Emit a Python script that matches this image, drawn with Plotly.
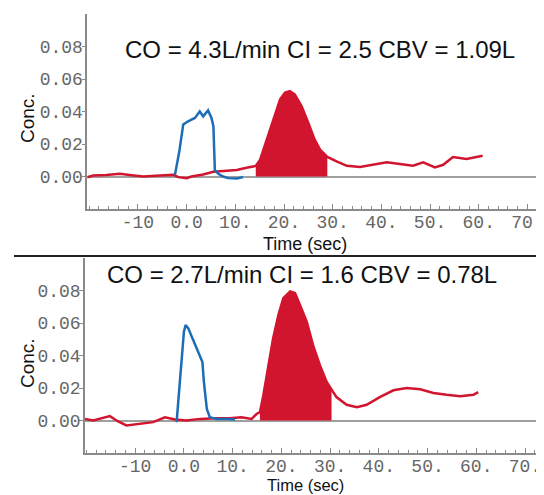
import plotly.graph_objects as go

# ---------------- data ----------------
titles = ["CO = 4.3L/min CI = 2.5 CBV = 1.09L", "CO = 2.7L/min CI = 1.6 CBV = 0.78L"]
x_tickvals = [-10, 0, 10, 20, 30, 40, 50, 60, 70]
x_ticktext = ["-10", "0.0", "10.", "20.", "30.", "40.", "50.", "60.", "70."]
y_tickvals = [0.0, 0.02, 0.04, 0.06, 0.08]
y_ticktext = ["0.00", "0.02", "0.04", "0.06", "0.08"]

top_blue_t = [-2.4, -1.5, -0.7, 0.3, 1.7, 2.7, 3.4, 4.4, 5.1, 5.5, 5.8, 6.5, 7.5, 8.5, 10.3, 11.6]
top_blue_v = [0.001, 0.0155, 0.032, 0.034, 0.036, 0.040, 0.037, 0.0407, 0.036, 0.031, 0.004,
              0.0017, 0.0, -0.001, -0.0012, -0.0004]
top_red_t = [-20.4, -19.2, -16.5, -13.7, -11.3, -8.9, -5.5, -2.75, -1.7, 0, 1.0, 3.4, 5.5, 8.2,
             10.3, 12.3, 14.2, 15.1, 16.4, 17.8, 19.2, 20.2, 21.2, 22.2, 23.6, 25.0, 26.3, 27.4,
             28.9, 30.8, 32.9, 35.6, 38.3, 41.1, 43.8, 46.5, 48.6, 51.0, 52.7, 54.7, 57.5, 59.5, 60.8]
top_red_v = [-0.0005, 0.0006, 0.001, 0.0017, 0.0008, 0.0, 0.0006, 0.001, -0.0004, -0.001, 0.0,
             0.0012, 0.0029, 0.0033, 0.004, 0.0054, 0.0065, 0.0103, 0.0217, 0.035, 0.0475, 0.0516,
             0.0526, 0.0506, 0.0433, 0.033, 0.0227, 0.0165, 0.012, 0.0093, 0.0066, 0.0058, 0.0072,
             0.0087, 0.0077, 0.0066, 0.0087, 0.0056, 0.0072, 0.012, 0.0108, 0.012, 0.0128]
top_fill_range = [14.2, 28.9]

bot_blue_t = [-1.5, -1.0, -0.5, 0.0, 0.35, 0.9, 1.9, 2.9, 3.8, 4.1, 4.7, 5.3, 6.7, 8.8, 10.5]
bot_blue_v = [-0.001, 0.0175, 0.040, 0.0547, 0.0588, 0.0567, 0.0495, 0.0423, 0.036, 0.0237,
              0.0072, 0.002, 0.001, 0.001, 0.0006]
bot_red_t = [-20.3, -18.6, -15.2, -13.5, -11.8, -9.0, -6.3, -3.9, -1.8, 0.5, 3.3, 6.7, 9.4, 11.8,
             13.9, 14.9, 15.6, 16.3, 17.3, 18.3, 19.4, 20.4, 21.8, 22.8, 23.8, 25.2, 26.5, 27.9,
             29.3, 30.3, 31.3, 33.4, 35.5, 37.5, 40.2, 43.0, 45.7, 48.5, 51.2, 53.9, 56.7, 59.4, 60.4]
bot_red_v = [0.001, 0.0, 0.0027, -0.0006, -0.003, -0.002, -0.001, 0.002, 0.0006, 0.0, 0.001,
             0.0014, 0.0014, 0.002, 0.001, 0.004, 0.0051, 0.0155, 0.034, 0.0505, 0.065, 0.0753,
             0.0794, 0.0784, 0.0712, 0.0608, 0.0464, 0.034, 0.0237, 0.0192, 0.0144, 0.0097, 0.0082,
             0.0097, 0.0144, 0.0186, 0.020, 0.0192, 0.0169, 0.0158, 0.015, 0.0158, 0.0175]
bot_fill_range = [15.6, 30.3]

# ---------------- style ----------------
W, H = 544, 495          # browser window
OFF = 8                  # default body margin of the page
FW, FH = W - OFF, H - OFF


def px(xp):
    return (xp - OFF) / FW


def py(yp):
    return (H - yp) / FH


RED = "#d2152f"
BLUE = "#1c6db6"
AXC = "#8a8a8a"
TICKFONT = dict(family="Liberation Mono, DejaVu Sans Mono, monospace", size=18, color="#666666")
LABFONT = "Liberation Sans, Arial, sans-serif"

fig = go.Figure()

panels = [
    dict(red_t=top_red_t, red_v=top_red_v, blue_t=top_blue_t, blue_v=top_blue_v,
         fill=top_fill_range, xa="x", ya="y", xr=[-20.4, 73.4],
         xdom=[px(87.3), 1.0], ydom=[py(209), py(14)]),
    dict(red_t=bot_red_t, red_v=bot_red_v, blue_t=bot_blue_t, blue_v=bot_blue_v,
         fill=bot_fill_range, xa="x2", ya="y2", xr=[-20.3, 73.9],
         xdom=[px(85), 1.0], ydom=[py(453), py(258)]),
]

for i, p in enumerate(panels):
    ft = [t for t in p["red_t"] if p["fill"][0] <= t <= p["fill"][1]]
    fv = [v for t, v in zip(p["red_t"], p["red_v"]) if p["fill"][0] <= t <= p["fill"][1]]
    fig.add_trace(go.Scatter(x=ft, y=fv, mode="lines", fill="tozeroy", fillcolor=RED,
                             line=dict(color=RED, width=1), xaxis=p["xa"], yaxis=p["ya"],
                             showlegend=False, hoverinfo="skip"))
    fig.add_trace(go.Scatter(x=p["red_t"], y=p["red_v"], mode="lines",
                             line=dict(color=RED, width=2.5), xaxis=p["xa"], yaxis=p["ya"],
                             showlegend=False))
    fig.add_trace(go.Scatter(x=p["blue_t"], y=p["blue_v"], mode="lines",
                             line=dict(color=BLUE, width=2.5), xaxis=p["xa"], yaxis=p["ya"],
                             showlegend=False))

    suffix = "" if i == 0 else "2"
    fig.update_layout(**{
        "xaxis" + suffix: dict(domain=p["xdom"], range=p["xr"], anchor=p["ya"],
                               tickvals=x_tickvals, ticktext=x_ticktext, tickfont=TICKFONT,
                               ticks="inside", ticklen=5, tickcolor=AXC, tickwidth=1,
                               ticklabelstandoff=-4,
                               minor=dict(dtick=2, tick0=0, ticks="inside", ticklen=3,
                                          tickcolor=AXC, tickwidth=1),
                               showline=True, linecolor=AXC, linewidth=1.5,
                               showgrid=False, zeroline=False, fixedrange=True),
        "yaxis" + suffix: dict(domain=p["ydom"], range=[-0.02, 0.1], anchor=p["xa"],
                               tickvals=y_tickvals, ticktext=y_ticktext, tickfont=TICKFONT,
                               ticks="outside", ticklen=4, tickcolor=AXC, tickwidth=1,
                               ticklabelstandoff=-5,
                               showline=True, linecolor=AXC, linewidth=1.5,
                               showgrid=False, zeroline=True, zerolinecolor="#a0a0a0",
                               zerolinewidth=1.5, fixedrange=True),
    })

annotations = [
    dict(text=titles[0], x=320, y=50, size=24),
    dict(text=titles[1], x=302, y=274, size=24),
    dict(text="Time (sec)", x=305, y=244, size=18),
    dict(text="Time (sec)", x=305, y=484.5, size=16.5),
]
for a in annotations:
    fig.add_annotation(xref="paper", yref="paper", x=px(a["x"]), y=py(a["y"]), text=a["text"],
                       showarrow=False, xanchor="center", yanchor="middle",
                       font=dict(family=LABFONT, size=a["size"], color="#111111"))
for yc in [118, 363]:
    fig.add_annotation(xref="paper", yref="paper", x=px(27), y=py(yc), text="Conc.",
                       textangle=-90, showarrow=False, xanchor="center", yanchor="middle",
                       font=dict(family=LABFONT, size=19, color="#111111"))

fig.add_shape(type="line", xref="paper", yref="paper", x0=px(14), x1=1.0,
              y0=py(256), y1=py(256), line=dict(color="#222222", width=2))

fig.update_layout(width=FW, height=FH, margin=dict(l=0, r=0, t=0, b=0),
                  paper_bgcolor="white", plot_bgcolor="white", showlegend=False)

fig.write_html("out.html")
